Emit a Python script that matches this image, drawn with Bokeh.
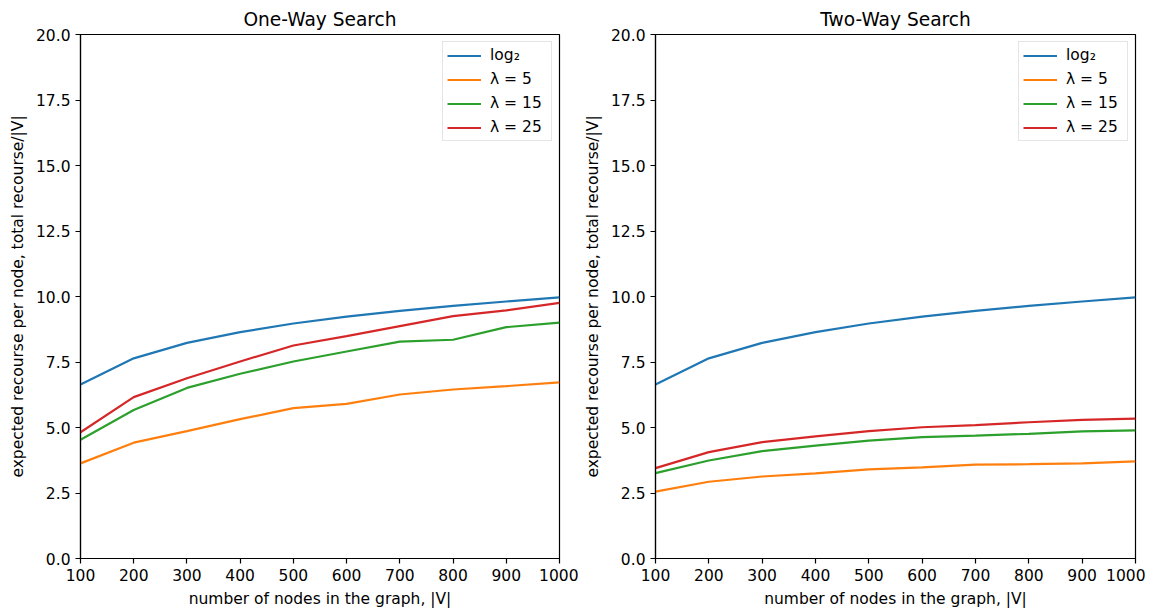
from bokeh.plotting import figure
from bokeh.layouts import row
from bokeh.models import Range1d, FixedTicker, Legend, LegendItem
from bokeh.embed import file_html
from bokeh.resources import INLINE

nodes = [100, 200, 300, 400, 500, 600, 700, 800, 900, 1000]
labels = ["log\u2082", "\u03bb = 5", "\u03bb = 15", "\u03bb = 25"]
colors = ["#1f77b4", "#ff7f0e", "#2ca02c", "#d62728"]

log2_vals = [6.64, 7.64, 8.23, 8.64, 8.97, 9.23, 9.45, 9.64, 9.81, 9.97]

one_way_l5 = [3.63, 4.42, 4.86, 5.32, 5.74, 5.90, 6.26, 6.45, 6.58, 6.72]
one_way_l15 = [4.53, 5.67, 6.51, 7.05, 7.52, 7.90, 8.28, 8.35, 8.83, 9.00]
one_way_l25 = [4.82, 6.16, 6.88, 7.52, 8.13, 8.49, 8.87, 9.25, 9.47, 9.76]

two_way_l5 = [2.55, 2.93, 3.13, 3.25, 3.40, 3.48, 3.58, 3.60, 3.63, 3.71]
two_way_l15 = [3.26, 3.74, 4.10, 4.31, 4.50, 4.63, 4.69, 4.76, 4.85, 4.89]
two_way_l25 = [3.45, 4.06, 4.44, 4.66, 4.86, 5.01, 5.09, 5.20, 5.29, 5.34]

y_ticks = [0, 2.5, 5, 7.5, 10, 12.5, 15, 17.5, 20]
x_ticks = nodes

FONT = "DejaVu Sans"
TICK_FS = "15.5px"


def make_plot(title, series, width, border_left, border_right):
    p = figure(width=width, height=612, output_backend="svg", toolbar_location=None,
               x_range=Range1d(100, 1000), y_range=Range1d(0, 20),
               min_border_left=border_left, min_border_right=border_right,
               min_border_top=34, min_border_bottom=54)
    p.title.text = title
    p.title.align = "center"
    p.title.text_font = FONT
    p.title.text_font_size = "18.6px"
    p.title.text_font_style = "normal"
    p.title.text_color = "#000000"
    p.title.offset = 0
    p.xgrid.visible = False
    p.ygrid.visible = False
    p.outline_line_color = "#000000"
    p.outline_line_width = 1.2
    p.outline_line_alpha = 1

    for ax in (p.xaxis[0], p.yaxis[0]):
        ax.major_tick_in = 0
        ax.major_tick_out = 5
        ax.minor_tick_line_color = None
        ax.axis_line_color = "#000000"
        ax.axis_line_width = 1.2
        ax.major_tick_line_color = "#000000"
        ax.major_tick_line_width = 1.2
        ax.major_label_text_font = FONT
        ax.major_label_text_font_size = TICK_FS
        ax.major_label_text_color = "#000000"
        ax.axis_label_text_font = FONT
        ax.axis_label_text_font_size = TICK_FS
        ax.axis_label_text_font_style = "normal"
        ax.axis_label_text_color = "#000000"
        ax.major_label_standoff = 5
        ax.axis_label_standoff = 6
    p.xaxis[0].ticker = FixedTicker(ticks=x_ticks)
    p.yaxis[0].ticker = FixedTicker(ticks=y_ticks)
    p.yaxis[0].major_label_overrides = {t: f"{t:.1f}" for t in y_ticks}
    p.xaxis[0].axis_label = "number of nodes in the graph, |V|"
    p.yaxis[0].axis_label = "expected recourse per node, total recourse/|V|"

    items = []
    for lab, col, vals in zip(labels, colors, series):
        r = p.line(nodes, vals, line_color=col, line_width=2.2)
        items.append(LegendItem(label=lab, renderers=[r]))
    leg = Legend(items=items, location="top_right")
    leg.label_text_font = FONT
    leg.label_text_font_size = TICK_FS
    leg.label_text_color = "#000000"
    leg.border_line_color = "#cccccc"
    leg.border_line_width = 1
    leg.glyph_width = 34
    leg.glyph_height = 17
    leg.label_height = 17
    leg.label_width = 57
    leg.spacing = 6
    leg.padding = 4
    leg.margin = 7
    leg.label_standoff = 9
    leg.background_fill_alpha = 0.8
    p.add_layout(leg)
    return p


p1 = make_plot("One-Way Search", [log2_vals, one_way_l5, one_way_l15, one_way_l25], 578, 80, 19)
p2 = make_plot("Two-Way Search", [log2_vals, two_way_l5, two_way_l15, two_way_l25], 567, 77, 10)

layout = row(p1, p2)
open("out.html", "w").write(file_html(layout, INLINE))
